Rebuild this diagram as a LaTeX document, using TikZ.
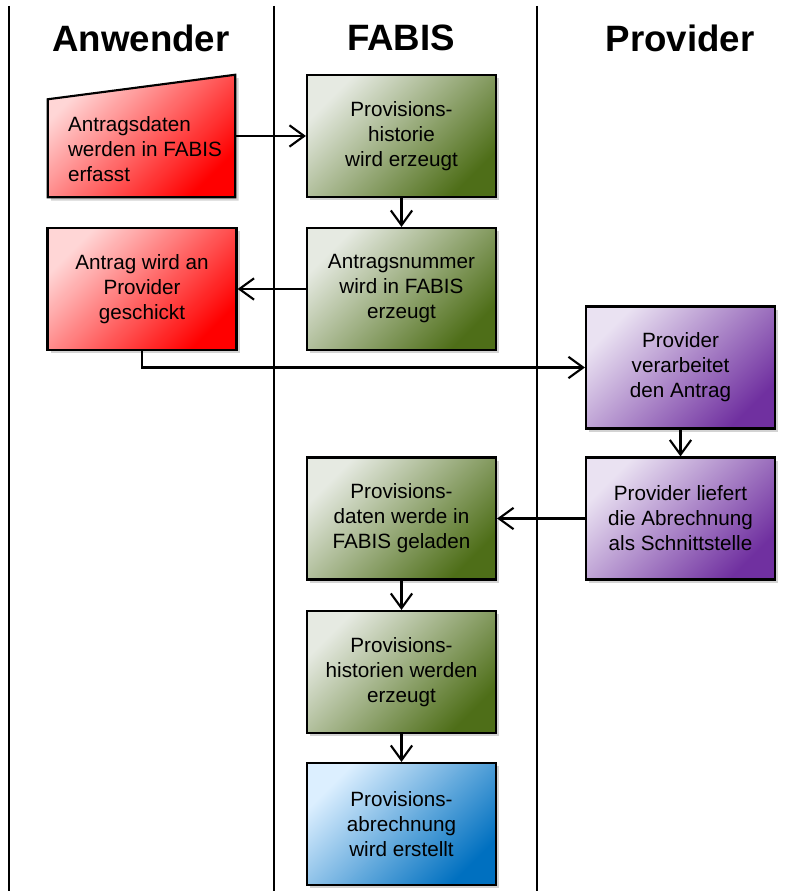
\documentclass[tikz,border=0pt]{standalone}
\usepackage{fontspec}
\setmainfont{Liberation Sans}
\usetikzlibrary{shadows,arrows.meta,calc}
\definecolor{redA}{HTML}{FFD6D6}\definecolor{redB}{HTML}{FFB4B4}\definecolor{redC}{HTML}{FF0000}
\definecolor{grnA}{HTML}{E6EAE2}\definecolor{grnB}{HTML}{CDD6C2}\definecolor{grnC}{HTML}{4E6E18}
\definecolor{purA}{HTML}{EAE2F2}\definecolor{purB}{HTML}{D6C8E6}\definecolor{purC}{HTML}{7030A0}
\definecolor{bluA}{HTML}{DCEFFF}\definecolor{bluB}{HTML}{BDE3FB}\definecolor{bluC}{HTML}{0070C0}
\begin{document}
\begin{tikzpicture}[x=0.75pt,y=-0.75pt,
  every node/.style={font=\fontsize{15.5}{18.75}\selectfont},
  box/.style={draw=black,line width=1.6pt,minimum width=141.75pt,minimum height=91.5pt,
    align=center,inner sep=2pt,
    drop shadow={opacity=0.35,shadow xshift=2.5pt,shadow yshift=-2.5pt}},
  redfill/.style={top color=redA,middle color=redB,bottom color=redC,shading angle=45},
  grnfill/.style={top color=grnA,middle color=grnB,bottom color=grnC,shading angle=45},
  purfill/.style={top color=purA,middle color=purB,bottom color=purC,shading angle=45},
  blufill/.style={top color=bluA,middle color=bluB,bottom color=bluC,shading angle=45},
  redbox/.style={box,redfill},
  grnbox/.style={box,grnfill},
  purbox/.style={box,purfill},
  blubox/.style={box,blufill},
  title/.style={font=\fontsize{27.5}{30}\selectfont\bfseries},
  lane/.style={line width=1.5pt},
  conn/.style={line width=1.6pt,-{Straight Barb[length=11pt,width=16pt,line width=1.6pt]}}]
\useasboundingbox (0,0) rectangle (808,891);
% lanes
\coordinate (l1t) at (9,6);   \coordinate (l1b) at (9,891);
\coordinate (l2t) at (274,6); \coordinate (l2b) at (274,891);
\coordinate (l3t) at (537,6); \coordinate (l3b) at (537,891);
\draw[lane] (l1t) -- (l1b);
\draw[lane] (l2t) -- (l2b);
\draw[lane] (l3t) -- (l3b);
% titles
\node[title] (tA) at (141,38) {Anwender};
\node[title] (tF) at (401,38) {FABIS};
\node[title] (tP) at (680,38) {Provider};
% manual input shape
\node[minimum width=140.25pt,minimum height=91.5pt,inner sep=0pt] (A1) at (141.5,136) {};
\shade[draw=black,line width=1.6pt,redfill,
  drop shadow={opacity=0.35,shadow xshift=2.5pt,shadow yshift=-2.5pt}]
  ($(A1.south west)+(0,-98)$) -- (A1.north east) -- (A1.south east) -- (A1.south west) -- cycle;
\node[align=left] (A1t) at (145,149) {Antragsdaten\\werden in FABIS\\erfasst};
% boxes
\node[redbox] (A2) at (142,289) {Antrag wird an\\Provider\\geschickt};
\node[grnbox] (F1) at (401.5,136) {Provisions-\\historie\\wird erzeugt};
\node[grnbox] (F2) at (401.5,289) {Antragsnummer\\wird in FABIS\\erzeugt};
\node[purbox] (P1) at (680.5,367.5) {Provider\\verarbeitet\\den Antrag};
\node[purbox] (P2) at (680.5,518.5) {Provider liefert\\die Abrechnung\\als Schnittstelle};
\node[grnbox] (F3) at (401.5,518.5) {Provisions-\\daten werde in\\FABIS geladen};
\node[grnbox] (F4) at (401.5,672) {Provisions-\\historien werden\\erzeugt};
\node[blubox] (F5) at (401.5,824) {Provisions-\\abrechnung\\wird erstellt};
% connectors
\draw[conn] (A1.east) -- (F1.west);
\draw[conn] (F1.south) -- (F2.north);
\draw[conn] (F2.west) -- (A2.east);
\draw[conn] (A2.south) |- (P1.west);
\draw[conn] (P1.south) -- (P2.north);
\draw[conn] (P2.west) -- (F3.east);
\draw[conn] (F3.south) -- (F4.north);
\draw[conn] (F4.south) -- (F5.north);
\end{tikzpicture}
\end{document}
